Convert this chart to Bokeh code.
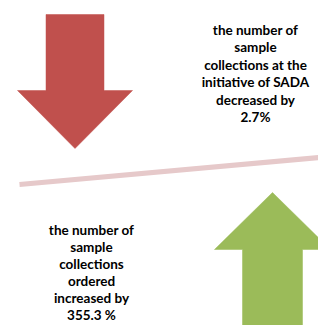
from bokeh.plotting import figure
from bokeh.models import Range1d
from bokeh.core.properties import value
from bokeh.embed import file_html
from bokeh.resources import INLINE

# ---- data ----
changes = ["decrease", "increase"]
change_pct = [-2.7, 355.3]
top_lines = ["the number of", "sample", "collections at the", "initiative of SADA", "decreased by", "2.7%"]
bottom_lines = ["the number of", "sample", "collections", "ordered", "increased by"]
bottom_value = "355.3 %"

# ---- layout (picture pixel coordinates) ----
W, H = 318, 325
p = figure(width=W, height=H, output_backend="svg", toolbar_location=None,
           x_range=Range1d(0, W), y_range=Range1d(H, 0),
           min_border=0, outline_line_color=None)
p.axis.visible = False
p.grid.visible = False
p.background_fill_color = "white"
p.border_fill_color = "white"

def arrow(cx, shaft_half, head_half, tail_y, base_y, tip_y):
    xs = [cx - shaft_half, cx + shaft_half, cx + shaft_half, cx + head_half,
          cx, cx - head_half, cx - shaft_half]
    ys = [tail_y, tail_y, base_y, base_y, tip_y, base_y, base_y]
    return xs, ys

# red down arrow
rx, ry = arrow(74.5, 29, 57.5, 14, 90, 148)
p.patch(rx, ry, fill_color="#C0504D", line_color="#C0504D", line_width=0.5)
# green up arrow
gx, gy = arrow(272, 30, 58, 340, 249, 192)
p.patch(gx, gy, fill_color="#9BBB59", line_color="#9BBB59", line_width=0.5)

# divider line
p.line([19, 330], [184, 156], line_color="#E6C9CA", line_width=5)

font = value("Lato")
fs = "13.5px"
top_y = [29.5 + 17.4 * i for i in range(len(top_lines))]
p.text(x=[255] * len(top_lines), y=top_y, text=top_lines, text_font=font,
       text_font_style="bold", text_font_size=fs, text_align="center",
       text_baseline="alphabetic", text_color="#000000")

bot_y = [229 + 17.2 * i for i in range(len(bottom_lines))]
p.text(x=[91] * len(bottom_lines), y=bot_y, text=bottom_lines, text_font=font,
       text_font_style="bold", text_font_size=fs, text_align="center",
       text_baseline="alphabetic", text_color="#000000")
p.text(x=[91], y=[314.5], text=[bottom_value], text_font=font,
       text_font_style="bold", text_font_size=fs, text_align="center",
       text_baseline="alphabetic", text_color="#000000")

open("out.html", "w").write(file_html(p, INLINE))
